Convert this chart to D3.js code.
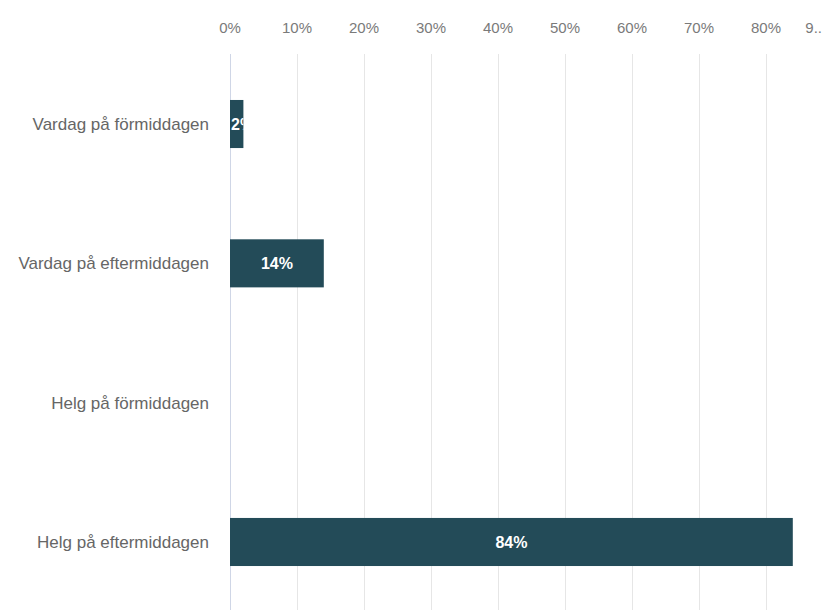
<!DOCTYPE html>
<html>
<head>
<meta charset="utf-8">
<script src="https://cdn.jsdelivr.net/npm/d3@7"></script>
<style>
  body { margin: 0; background: #fff; }
  svg { display: block; font-family: "Liberation Sans", Arial, sans-serif; }
</style>
</head>
<body>
<svg></svg>
<script>
var categories = ['Vardag på förmiddagen', 'Vardag på eftermiddagen', 'Helg på förmiddagen', 'Helg på eftermiddagen'];
var values = [2, 14, 0, 84];
var tickValues = [0, 10, 20, 30, 40, 50, 60, 70, 80, 90];
var tickLabels = ['0%', '10%', '20%', '30%', '40%', '50%', '60%', '70%', '80%', '9..'];

var W = 825, H = 610;

var svg = d3.select('svg')
    .attr('width', W)
    .attr('height', H);

var x = d3.scaleLinear().domain([0, 90]).range([230, 833]);
var y = d3.scaleBand().domain(categories).range([54, 612]).paddingInner(0.655).paddingOuter(0.33);

// clip value labels to their bars
var defs = svg.append('defs');
values.forEach(function(d, i) {
    defs.append('clipPath').attr('id', 'clip' + i)
        .append('rect')
        .attr('x', x(0))
        .attr('y', y(categories[i]))
        .attr('width', x(d) - x(0))
        .attr('height', y.bandwidth());
});

// gridlines
svg.append('g').selectAll('line')
    .data(tickValues)
    .enter()
    .append('line')
    .attr('x1', d => x(d) + 0.5)
    .attr('x2', d => x(d) + 0.5)
    .attr('y1', 54)
    .attr('y2', H)
    .style('stroke', d => d == 0 ? '#cfd6e6' : '#e6e6e6')
    .style('stroke-width', 1);

// tick labels on top
svg.append('g').selectAll('text')
    .data(tickValues)
    .enter()
    .append('text')
    .attr('x', (d, i) => i == tickValues.length - 1 ? 822 : x(d))
    .attr('y', 33)
    .attr('text-anchor', (d, i) => i == tickValues.length - 1 ? 'end' : 'middle')
    .style('font-size', '15px')
    .style('fill', '#7a7a7a')
    .text((d, i) => tickLabels[i]);

// category labels
svg.append('g').selectAll('text')
    .data(categories)
    .enter()
    .append('text')
    .attr('x', 209)
    .attr('y', d => y(d) + y.bandwidth() / 2 + 6)
    .attr('text-anchor', 'end')
    .style('font-size', '17px')
    .style('fill', '#666666')
    .text(d => d);

// bars
svg.append('g').selectAll('rect')
    .data(values)
    .enter()
    .append('rect')
    .attr('x', x(0))
    .attr('y', (d, i) => y(categories[i]))
    .attr('width', d => x(d) - x(0))
    .attr('height', y.bandwidth())
    .style('fill', '#234b58');

// value labels
svg.append('g').selectAll('text')
    .data(values)
    .enter()
    .append('text')
    .attr('clip-path', (d, i) => 'url(#clip' + i + ')')
    .attr('x', d => (x(d) - x(0)) < 30 ? x(0) + 1 : (x(0) + x(d)) / 2)
    .attr('y', (d, i) => y(categories[i]) + y.bandwidth() / 2 + 6)
    .attr('text-anchor', d => (x(d) - x(0)) < 30 ? 'start' : 'middle')
    .style('font-size', '16px')
    .style('font-weight', 'bold')
    .style('fill', '#ffffff')
    .text(d => d > 0 ? d + '%' : '');
</script>
</body>
</html>
